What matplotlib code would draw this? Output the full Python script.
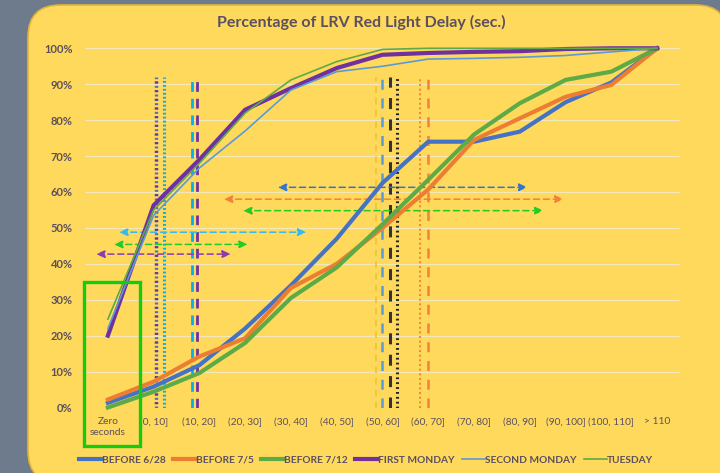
import matplotlib
matplotlib.use("Agg")
import matplotlib.pyplot as plt
from matplotlib.patches import FancyBboxPatch, Rectangle

plt.rcParams['font.family'] = ['Lato', 'DejaVu Sans']

# categories on the x axis
categories = ["Zero\nseconds", "(0, 10]", "(10, 20]", "(20, 30]", "(30, 40]", "(40, 50]",
              "(50, 60]", "(60, 70]", "(70, 80]", "(80, 90]", "(90, 100]", "(100, 110]", "> 110"]

# cumulative share, one list per day
before_628 = [0.013, 0.058, 0.118, 0.22, 0.34, 0.47, 0.625, 0.74, 0.74, 0.768, 0.85, 0.905, 1.0]
before_75 = [0.022, 0.072, 0.142, 0.193, 0.333, 0.40, 0.50, 0.607, 0.745, 0.805, 0.865, 0.898, 1.0]
before_712 = [0.0, 0.044, 0.096, 0.18, 0.305, 0.39, 0.51, 0.634, 0.76, 0.847, 0.912, 0.935, 1.0]
first_monday = [0.20, 0.563, 0.69, 0.829, 0.889, 0.945, 0.982, 0.987, 0.99, 0.992, 0.998, 1.0, 1.0]
second_monday = [0.22, 0.535, 0.667, 0.77, 0.884, 0.935, 0.95, 0.97, 0.972, 0.975, 0.98, 0.99, 1.0]
tuesday = [0.246, 0.55, 0.68, 0.82, 0.912, 0.963, 0.997, 1.0, 1.0, 1.0, 1.0, 1.0, 1.0]

# marker lines: x (in category units)
vline_x = [1.05, 1.05, 1.22, 1.84, 1.95, 5.85, 5.98, 6.16, 6.31, 6.81, 6.99]
vline_top = 0.92

# horizontal double arrows
arrow_x0 = [3.71, 2.53, 2.95, 0.24, 0.13, -0.26]
arrow_x1 = [9.17, 9.96, 9.52, 4.34, 3.06, 2.69]
arrow_y = [0.613, 0.58, 0.548, 0.488, 0.454, 0.427]

text_col = '#5A5060'

fig = plt.figure(figsize=(7.2, 4.73), dpi=100, facecolor='#6D7B8D')

# yellow rounded panel
panel = FancyBboxPatch((28 / 720, -10 / 473), 700 / 720, 478 / 473,
                       boxstyle="round,pad=0,rounding_size=0.045",
                       transform=fig.transFigure, facecolor='#FFD95C',
                       edgecolor='#E0B43A', linewidth=1.2, mutation_aspect=720 / 473,
                       zorder=-5)
fig.patches.append(panel)

ax = fig.add_axes([85 / 720, 1 - 407.5 / 473, 595 / 720, 359.2 / 473])
ax.set_facecolor('none')
x = list(range(len(categories)))

ax.set_ylim(0, 1.0)
ax.set_xlim(-0.5, 12.5)
ax.set_yticks([i / 10 for i in range(11)])
ax.set_yticklabels([f"{i * 10}%" for i in range(11)])
ax.yaxis.grid(True, color='#F3E7BC', linewidth=0.9)
ax.set_axisbelow(True)
for s in ax.spines.values():
    s.set_visible(False)
ax.tick_params(length=0)
ax.tick_params(axis='y', pad=9, labelsize=8, labelcolor=text_col)
ax.tick_params(axis='x', pad=7, labelsize=7.3, labelcolor=text_col)
for lab in ax.get_yticklabels():
    lab.set_fontweight('bold')
ax.set_xticks(x)
ax.set_xticklabels(categories)

# vertical marker lines
vl_styles = [
    ('#4472C4', (0, (0.6, 0.7)), 2.4),
    ('#7030A0', (1.3, (0.6, 2.0)), 2.4),
    ('#00B0F0', (0, (0.6, 0.7)), 2.2),
    ('#00B0F0', (0, (3.5, 2.5)), 2.0),
    ('#7030A0', (0, (3.5, 2.5)), 2.0),
    ('#F2C037', (0, (4, 3)), 1.2),
    ('#5B9BD5', (0, (4, 3.5)), 1.8),
    ('#333333', (0, (3.6, 3.4)), 2.2),
    ('#222222', (0, (0.6, 1.0)), 2.2),
    ('#F4813B', (0, (1, 1.4)), 1.4),
    ('#F4813B', (0, (4, 3.5)), 1.8),
]
for xv, (c, ls, lw) in zip(vline_x, vl_styles):
    ax.plot([xv, xv], [0, vline_top], color=c, linestyle=ls, linewidth=lw, zorder=3)

# arrows
arrow_cols = ['#2E75D6', '#F4813B', '#22CC22', '#33BBEE', '#22CC22', '#8A3CB0']
for x0, x1, yv, c in zip(arrow_x0, arrow_x1, arrow_y, arrow_cols):
    ax.annotate('', xy=(x1, yv), xytext=(x0, yv),
                arrowprops=dict(arrowstyle='<|-|>,head_length=0.5,head_width=0.22',
                                color=c, linestyle=(0, (4, 2.5)), linewidth=1.1,
                                shrinkA=0, shrinkB=0), zorder=4)

# series
ax.plot(x, before_628, color='#4472C4', linewidth=3.0, label='BEFORE 6/28', clip_on=False, zorder=5)
ax.plot(x, before_75, color='#ED7D31', linewidth=3.0, label='BEFORE 7/5', clip_on=False, zorder=5)
ax.plot(x, before_712, color='#5DAA46', linewidth=3.0, label='BEFORE 7/12', clip_on=False, zorder=5)
ax.plot(x, first_monday, color='#7030A0', linewidth=3.0, label='FIRST MONDAY', clip_on=False, zorder=5)
ax.plot(x, second_monday, color='#5B9BD5', linewidth=1.2, label='SECOND MONDAY', clip_on=False, zorder=6)
ax.plot(x, tuesday, color='#5DAA46', linewidth=1.2, label='TUESDAY', clip_on=False, zorder=6)

# green highlight box around "Zero seconds"
ax.add_patch(Rectangle((-0.52, -0.107), 1.22, 0.457, fill=False, edgecolor='#11CC11',
                       linewidth=2.4, clip_on=False, zorder=7))

fig.text(361 / 720, 1 - 22 / 473, "Percentage of LRV Red Light Delay (sec.)", ha='center',
         va='center', fontsize=11.5, fontweight='bold', color=text_col)

leg = fig.legend(loc='center', bbox_to_anchor=(366 / 720, 1 - 460 / 473), ncol=6, frameon=False,
                 fontsize=7.3, handlelength=2.3, handletextpad=0.0, columnspacing=0.7)
for t in leg.get_texts():
    t.set_color(text_col)
    t.set_fontweight('bold')

fig.savefig("out.png", dpi=100, facecolor=fig.get_facecolor())
